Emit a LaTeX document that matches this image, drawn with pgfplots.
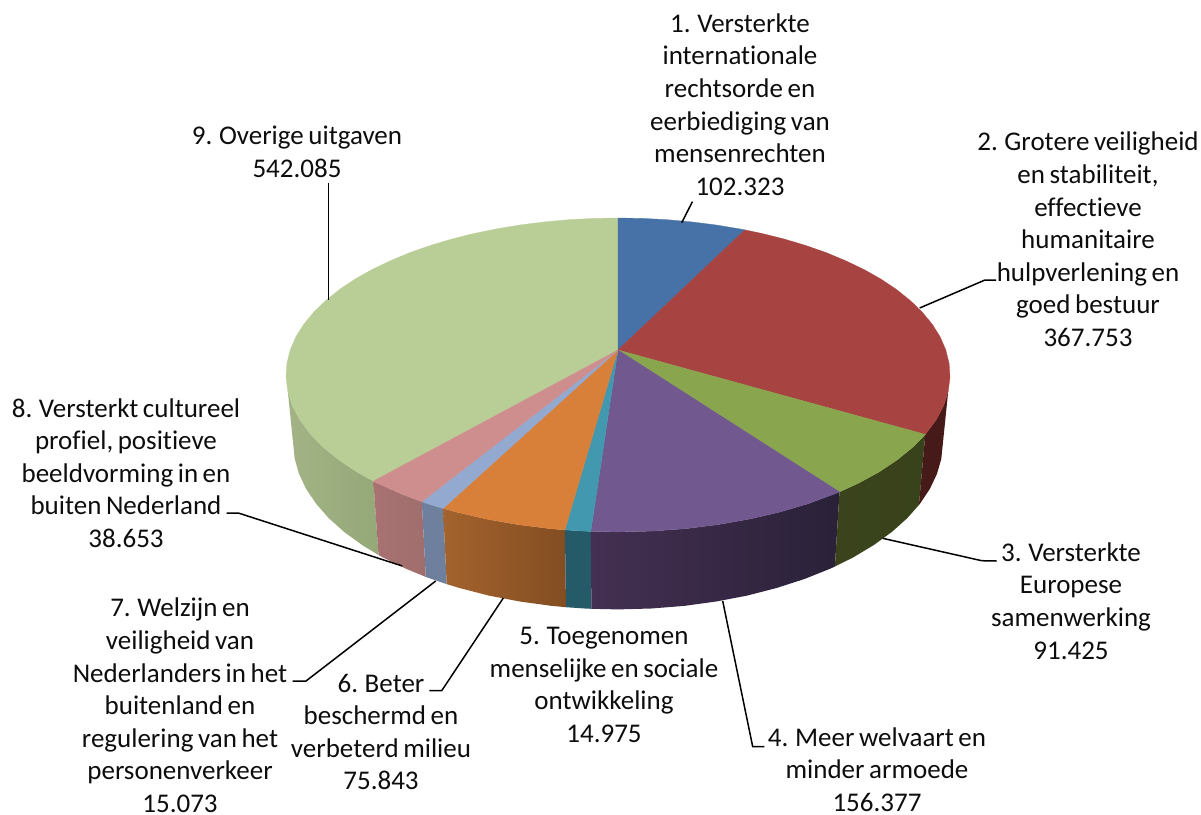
\documentclass[border=0pt]{standalone}
\usepackage{fontspec}
\setmainfont{Carlito}[Ligatures=NoCommon,WordSpace=0.75]
\usepackage{pgfplots}
\pgfplotsset{compat=1.18}
\definecolor{c1}{HTML}{4672A7}
\definecolor{c2}{HTML}{A74442}
\definecolor{c3}{HTML}{89A54E}
\definecolor{c4}{HTML}{71588F}
\definecolor{c5}{HTML}{4198AF}
\definecolor{c6}{HTML}{D8803A}
\definecolor{c7}{HTML}{93A9CF}
\definecolor{c8}{HTML}{CE8E8D}
\definecolor{c9}{HTML}{B9CD96}
\definecolor{w9l}{HTML}{A3B385}
\definecolor{w9r}{HTML}{95A878}
\definecolor{w8l}{HTML}{A87272}
\definecolor{w8r}{HTML}{A06E6C}
\definecolor{w7}{HTML}{6F7F9E}
\definecolor{w6l}{HTML}{A3632D}
\definecolor{w6r}{HTML}{834D22}
\definecolor{w5}{HTML}{255B68}
\definecolor{w4l}{HTML}{443052}
\definecolor{w4r}{HTML}{2A2138}
\definecolor{w3l}{HTML}{3A431C}
\definecolor{w3r}{HTML}{38421B}
\definecolor{w2}{HTML}{451A18}
\tikzset{lab/.style={align=center,anchor=center,inner sep=0pt,font=\fontsize{27}{32.6}\selectfont,text=black!95}}
\begin{document}
\begin{tikzpicture}
\path[use as bounding box] (0,0) rectangle (1201pt,814pt);
\begin{axis}[at={(0,0)},anchor=south west,scale only axis,width=1201pt,height=814pt,xmin=0,xmax=1201,ymin=0,ymax=814,y dir=reverse,hide axis,clip=false]
% side walls (left to right shading)
\addplot[left color=w9l,right color=w9r,draw=none,forget plot] coordinates {(373.4,481.1)(356.8,471.9)(338.3,459.5)(322.5,446.6)(309.6,433.1)(299.5,419.3)(292.2,405.3)(287.8,391.3)(294.7,458.8)(299.0,473.8)(306.1,488.8)(316.0,503.6)(328.6,518.0)(344.1,531.9)(362.3,545.1)(378.5,555.0)} -- cycle;
\addplot[left color=w8l,right color=w8r,draw=none,forget plot] coordinates {(421.8,501.6)(401.8,494.1)(378.0,483.4)(373.4,481.1)(378.5,555.0)(383.0,557.5)(406.3,568.9)(425.8,576.9)} -- cycle;
\addplot[fill=w7,draw=none,forget plot] coordinates {(443.1,508.4)(427.9,503.7)(421.8,501.6)(425.8,576.9)(431.9,579.1)(446.7,584.1)} -- cycle;
\addplot[left color=w6l,right color=w6r,draw=none,forget plot] coordinates {(564.9,529.9)(550.5,528.7)(517.8,524.6)(486.2,519.0)(456.1,512.0)(443.1,508.4)(446.7,584.1)(459.5,588.0)(488.9,595.6)(519.8,601.5)(551.9,605.9)(566.0,607.2)} -- cycle;
\addplot[fill=w5,draw=none,forget plot] coordinates {(590.8,531.4)(584.0,531.1)(564.9,529.9)(566.0,607.2)(584.7,608.5)(591.4,608.8)} -- cycle;
\addplot[left color=w4l,right color=w4r,draw=none,forget plot] coordinates {(839.5,491.9)(808.1,503.7)(779.9,512.0)(749.8,519.0)(718.2,524.6)(685.5,528.7)(652.0,531.1)(618,531.9)(590.8,531.4)(591.4,608.8)(618,609.4)(651.3,608.5)(684.1,605.9)(716.2,601.5)(747.1,595.6)(776.5,588.0)(804.1,579.1)(829.7,568.9)(834.9,566.5)} -- cycle;
\addplot[left color=w3l,right color=w3r,draw=none,forget plot] coordinates {(925.3,434.4)(913.5,446.6)(897.7,459.5)(879.2,471.9)(858.0,483.4)(839.5,491.9)(834.9,566.5)(853.0,557.5)(873.7,545.1)(891.9,531.9)(907.4,518.0)(918.9,505.0)} -- cycle;
\addplot[fill=w2,draw=none,forget plot] coordinates {(948.2,391.3)(943.8,405.3)(936.5,419.3)(926.4,433.1)(925.3,434.4)(918.9,505.0)(920.0,503.6)(929.9,488.8)(937.0,473.8)(941.3,458.8)} -- cycle;
% top face
\addplot[fill=c9,draw=c9,line width=0.3pt,forget plot] coordinates {(618,350)(373.4,481.1)(356.8,471.9)(338.3,459.5)(322.5,446.6)(309.6,433.1)(299.5,419.3)(292.2,405.3)(287.8,391.3)(286.0,377.3)(286.9,363.5)(290.2,350)(295.9,336.8)(303.8,324.2)(313.9,312.0)(325.9,300.4)(339.6,289.4)(355.0,279.1)(371.9,269.6)(390.2,260.8)(409.6,252.7)(430.2,245.5)(451.6,239.1)(473.9,233.5)(496.9,228.8)(520.5,224.9)(544.5,221.9)(568.8,219.7)(593.3,218.4)(618,218)} -- cycle;
\addplot[fill=c1,draw=c1,line width=0.3pt,forget plot] coordinates {(618,350)(618,218)(642.7,218.4)(667.2,219.7)(691.5,221.9)(715.5,224.9)(739.1,228.8)(744.8,229.9)} -- cycle;
\addplot[fill=c2,draw=c2,line width=0.3pt,forget plot] coordinates {(618,350)(744.8,229.9)(762.1,233.5)(784.4,239.1)(805.8,245.5)(826.4,252.7)(845.8,260.8)(864.1,269.6)(881.0,279.1)(896.4,289.4)(910.1,300.4)(922.1,312.0)(932.2,324.2)(940.1,336.8)(945.8,350)(949.1,363.5)(950.0,377.3)(948.2,391.3)(943.8,405.3)(936.5,419.3)(926.4,433.1)(925.3,434.4)} -- cycle;
\addplot[fill=c3,draw=c3,line width=0.3pt,forget plot] coordinates {(618,350)(925.3,434.4)(913.5,446.6)(897.7,459.5)(879.2,471.9)(858.0,483.4)(839.5,491.9)} -- cycle;
\addplot[fill=c4,draw=c4,line width=0.3pt,forget plot] coordinates {(618,350)(839.5,491.9)(834.2,494.1)(808.1,503.7)(779.9,512.0)(749.8,519.0)(718.2,524.6)(685.5,528.7)(652.0,531.1)(618,531.9)(590.8,531.4)} -- cycle;
\addplot[fill=c5,draw=c5,line width=0.3pt,forget plot] coordinates {(618,350)(590.8,531.4)(584.0,531.1)(564.9,529.9)} -- cycle;
\addplot[fill=c6,draw=c6,line width=0.3pt,forget plot] coordinates {(618,350)(564.9,529.9)(550.5,528.7)(517.8,524.6)(486.2,519.0)(456.1,512.0)(443.1,508.4)} -- cycle;
\addplot[fill=c7,draw=c7,line width=0.3pt,forget plot] coordinates {(618,350)(443.1,508.4)(427.9,503.7)(421.8,501.6)} -- cycle;
\addplot[fill=c8,draw=c8,line width=0.3pt,forget plot] coordinates {(618,350)(421.8,501.6)(401.8,494.1)(378.0,483.4)(373.4,481.1)} -- cycle;
% leader lines
\addplot[black,line width=1.5pt,forget plot] coordinates {(692.4,201.7)(681.7,222.7)};
\addplot[black,line width=1.5pt,forget plot] coordinates {(996,280)(985,280)(919.7,308)};
\addplot[black,line width=1.5pt,forget plot] coordinates {(882.7,538.3)(981.7,560.7)(996.7,561)};
\addplot[black,line width=1.5pt,forget plot] coordinates {(722.7,601)(752.7,746.7)(764.3,746.7)};
\addplot[black,line width=1.5pt,forget plot] coordinates {(429.3,690.7)(441.7,690.7)(503.3,598)};
\addplot[black,line width=1.5pt,forget plot] coordinates {(292.7,681)(306,681)(435.7,581)};
\addplot[black,line width=1.5pt,forget plot] coordinates {(226.7,513)(238.3,513)(402.3,566)};
\addplot[black,line width=1.5pt,forget plot] coordinates {(328.3,183.3)(328.3,300)};
% labels
\node[lab] at (axis cs:740,104.5) {1. Versterkte\\internationale\\rechtsorde en\\eerbiediging van\\mensenrechten\\102.323};
\node[lab] at (axis cs:1088,239.5) {2. Grotere veiligheid\\en stabiliteit,\\effectieve\\humanitaire\\hulpverlening en\\goed bestuur\\367.753};
\node[lab] at (axis cs:1071,601) {3. Versterkte\\Europese\\samenwerking\\91.425};
\node[lab] at (axis cs:877,769.5) {4. Meer welvaart en\\minder armoede\\156.377};
\node[lab] at (axis cs:604,685) {5. Toegenomen\\menselijke en sociale\\ontwikkeling\\14.975};
\node[lab] at (axis cs:381,732) {6. Beter\\beschermd en\\verbeterd milieu\\75.843};
\node[lab] at (axis cs:180,705.5) {7. Welzijn en\\veiligheid van\\Nederlanders in het\\buitenland en\\regulering van het\\personenverkeer\\15.073};
\node[lab] at (axis cs:126,473) {8. Versterkt cultureel\\profiel, positieve\\beeldvorming in en\\buiten Nederland\\38.653};
\node[lab] at (axis cs:297,152) {9. Overige uitgaven\\542.085};
\end{axis}
\end{tikzpicture}
\end{document}
